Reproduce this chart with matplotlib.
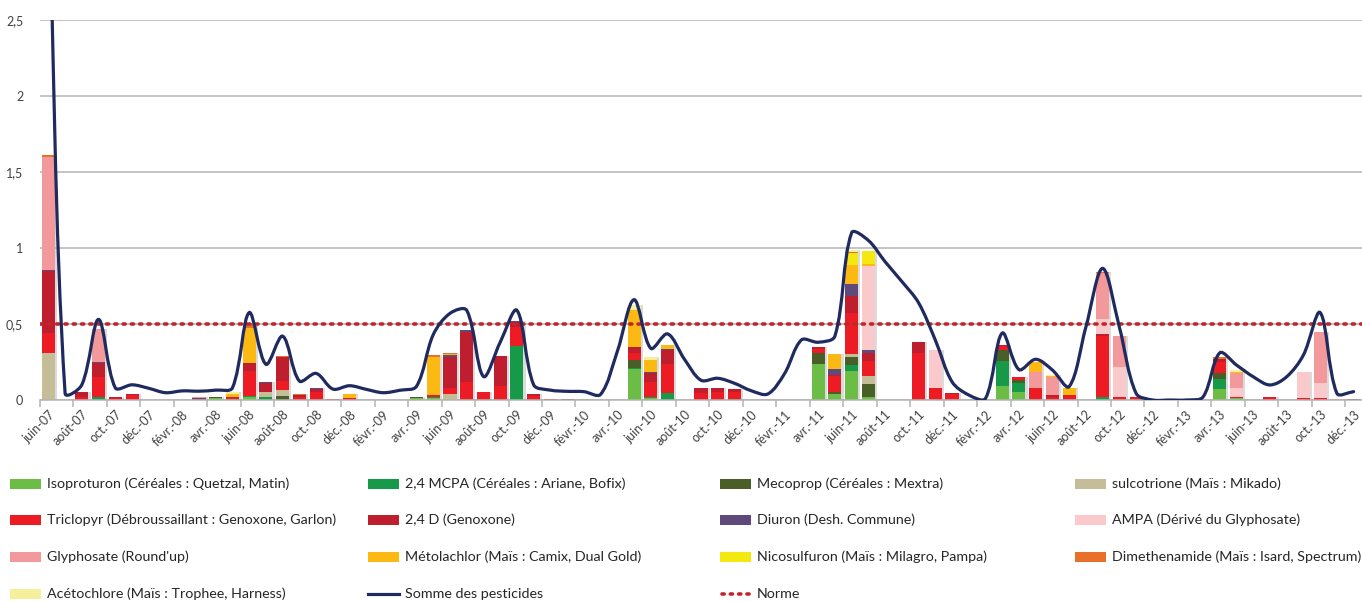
import numpy as np
import matplotlib
matplotlib.use("Agg")
import matplotlib.pyplot as plt
from matplotlib.path import Path
from matplotlib.patches import PathPatch, Rectangle
from matplotlib.lines import Line2D

plt.rcParams['font.family'] = ['Lato', 'DejaVu Sans']

# months juin-07 .. déc-13 (79 months)
MOIS = ["janv.", "févr.", "mars", "avr.", "mai", "juin", "juil.", "août", "sept.", "oct.", "nov.", "déc."]
months = []
for k in range(79):
    m = (5 + k) % 12
    y = 7 + (5 + k) // 12
    months.append(f"{MOIS[m]}-{y:02d}")

N = len(months)

def serie(d):
    # d: {month index: value} -> full list
    return [d.get(i, 0.0) for i in range(N)]

isoproturon = serie({10: 0.015, 12: 0.02, 22: 0.012, 23: 0.012, 32: 0.004, 35: 0.204, 36: 0.015,
                     46: 0.237, 47: 0.04, 48: 0.193, 49: 0.018, 57: 0.092, 58: 0.05, 70: 0.072, 71: 0.01})
mcpa = serie({3: 0.02, 11: 0.005, 12: 0.008, 13: 0.02, 23: 0.005, 28: 0.355, 35: 0.006, 36: 0.005,
              37: 0.044, 48: 0.037, 57: 0.165, 58: 0.064, 63: 0.02, 70: 0.066})
mecoprop = serie({10: 0.007, 14: 0.025, 22: 0.008, 31: 0.005, 35: 0.05, 41: 0.005, 46: 0.07, 47: 0.01,
                  48: 0.055, 49: 0.087, 57: 0.073, 58: 0.016, 70: 0.037, 78: 0.008})
sulcotrione = serie({0: 0.31, 13: 0.035, 14: 0.04, 24: 0.037, 48: 0.015, 49: 0.053})
triclopyr = serie({0: 0.13, 2: 0.02, 3: 0.133, 4: 0.015, 5: 0.03, 9: 0.008, 11: 0.012, 12: 0.165,
                   14: 0.06, 15: 0.02, 16: 0.05, 17: 0.005, 18: 0.015, 23: 0.016, 24: 0.04, 25: 0.12,
                   26: 0.055, 27: 0.094, 28: 0.127, 29: 0.025, 30: 0.004, 35: 0.05, 36: 0.1, 37: 0.19,
                   39: 0.045, 40: 0.055, 41: 0.045, 46: 0.028, 47: 0.105, 48: 0.275, 49: 0.1, 52: 0.311,
                   53: 0.08, 54: 0.04, 57: 0.025, 58: 0.023, 59: 0.08, 60: 0.02, 61: 0.033, 63: 0.4,
                   64: 0.018, 65: 0.02, 70: 0.073, 71: 0.007, 73: 0.02, 75: 0.012, 76: 0.015})
d24 = serie({0: 0.41, 2: 0.03, 3: 0.088, 4: 0.005, 5: 0.01, 12: 0.048, 13: 0.06, 14: 0.16, 15: 0.01,
             16: 0.022, 24: 0.208, 25: 0.33, 27: 0.195, 28: 0.03, 29: 0.015, 35: 0.04, 36: 0.06,
             37: 0.095, 39: 0.035, 40: 0.025, 41: 0.022, 46: 0.012, 47: 0.012, 48: 0.111, 49: 0.052,
             52: 0.069, 54: 0.004, 57: 0.01, 60: 0.012, 63: 0.015, 70: 0.02})
diuron = serie({0: 0.005, 3: 0.008, 9: 0.005, 13: 0.005, 16: 0.008, 24: 0.01, 25: 0.01, 28: 0.005,
                36: 0.005, 37: 0.006, 47: 0.035, 48: 0.077, 49: 0.019})
ampa = serie({49: 0.55, 53: 0.25, 63: 0.1, 64: 0.2, 71: 0.06, 75: 0.174, 76: 0.1})
glyphosate = serie({0: 0.745, 3: 0.22, 9: 0.007, 30: 0.005, 43: 0.005, 59: 0.106, 60: 0.12, 63: 0.3,
                    64: 0.2, 71: 0.1, 76: 0.33, 77: 0.005})
metolachlor = serie({11: 0.023, 12: 0.23, 18: 0.025, 23: 0.252, 24: 0.01, 35: 0.24, 36: 0.075, 37: 0.025,
                     47: 0.1, 48: 0.125, 49: 0.015, 59: 0.062, 60: 0.008, 61: 0.044, 71: 0.005, 76: 0.005})
nicosulfuron = serie({48: 0.077, 49: 0.088})
dimethenamide = serie({0: 0.015, 12: 0.035, 14: 0.005, 15: 0.008, 23: 0.011, 24: 0.005, 48: 0.007,
                       63: 0.007, 70: 0.017})
acetochlore = serie({11: 0.01, 35: 0.035, 36: 0.025, 48: 0.015, 60: 0.004, 71: 0.018})

somme = [3.5, 0.044, 0.10, 0.53, 0.08, 0.10, 0.077, 0.048, 0.06, 0.058, 0.065, 0.08,
         0.575, 0.235, 0.42, 0.125, 0.175, 0.072, 0.094, 0.07, 0.048, 0.064, 0.09, 0.43,
         0.57, 0.59, 0.155, 0.38, 0.59, 0.10, 0.065, 0.057, 0.055, 0.037, 0.32, 0.66,
         0.34, 0.435, 0.27, 0.13, 0.143, 0.11, 0.061, 0.04, 0.175, 0.395, 0.38, 0.42,
         1.10, 1.05, 0.91, 0.78, 0.64, 0.395, 0.12, 0.033, 0.01, 0.44, 0.2, 0.268,
         0.197, 0.088, 0.48, 0.866, 0.48, 0.044, 0.0, 0.0, 0.0, 0.02, 0.31, 0.23,
         0.153, 0.099, 0.153, 0.296, 0.575, 0.044, 0.055]
norme = 0.5

series = [
    ("Isoproturon (Céréales : Quetzal, Matin)", isoproturon, "#6cbd45"),
    ("2,4 MCPA (Céréales : Ariane, Bofix)", mcpa, "#17994a"),
    ("Mecoprop (Céréales : Mextra)", mecoprop, "#4a5e28"),
    ("sulcotrione (Maïs : Mikado)", sulcotrione, "#c5bd97"),
    ("Triclopyr (Débroussaillant : Genoxone, Garlon)", triclopyr, "#ed1c24"),
    ("2,4 D (Genoxone)", d24, "#be1e2d"),
    ("Diuron (Desh. Commune)", diuron, "#604a7b"),
    ("AMPA (Dérivé du Glyphosate)", ampa, "#f9c9cc"),
    ("Glyphosate (Round'up)", glyphosate, "#f4999b"),
    ("Métolachlor (Maïs : Camix, Dual Gold)", metolachlor, "#fdb913"),
    ("Nicosulfuron (Maïs : Milagro, Pampa)", nicosulfuron, "#f3e80f"),
    ("Dimethenamide (Maïs : Isard, Spectrum)", dimethenamide, "#e8702a"),
    ("Acétochlore (Maïs : Trophee, Harness)", acetochlore, "#f6ef9b"),
]
LINE_COLOR = "#1f2a5e"
NORME_COLOR = "#c0272d"
DOTS = (0, (0.6, 1.7))

fig = plt.figure(figsize=(13.62, 6.02), dpi=100)
ax = fig.add_axes([40 / 1362, 1 - 400 / 602, 1 - 40 / 1362, 380 / 602])

x = np.arange(N)
bottom = np.zeros(N)
for name, vals, col in series:
    vals = np.array(vals)
    # soft shadow
    ax.bar(x + 0.13, vals, bottom=bottom, width=0.78, color="#9a9a9a", alpha=0.35,
           linewidth=0, zorder=1)
    ax.bar(x, vals, bottom=bottom, width=0.78, color=col, linewidth=0, zorder=2)
    bottom += vals

# smooth line: Bezier handles along (next - prev), length shared by the
# neighbouring segment lengths (measured in pixels), spreadsheet style
SX, SY = 16.75, 152.0
P = np.column_stack([x * SX, np.array(somme) * SY]).astype(float)
hin = np.zeros_like(P)
hout = np.zeros_like(P)
for i in range(N):
    a = P[i - 1] if i > 0 else P[i]
    b = P[i + 1] if i < N - 1 else P[i]
    t = b - a
    dp = np.hypot(*(P[i] - a))
    dn = np.hypot(*(b - P[i]))
    s = dp + dn
    if s == 0:
        continue
    hin[i] = P[i] - t * dp / s / 3
    hout[i] = P[i] + t * dn / s / 3
verts = [P[0]]
codes = [Path.MOVETO]
for i in range(N - 1):
    verts += [hout[i], hin[i + 1], P[i + 1]]
    codes += [Path.CURVE4] * 3
verts = np.array(verts) / [SX, SY]
ax.add_patch(PathPatch(Path(verts, codes), facecolor="none", edgecolor=LINE_COLOR,
                       linewidth=2.3, zorder=4, capstyle="round"))

ax.axhline(norme, color=NORME_COLOR, linewidth=2.6, linestyle=DOTS,
           dash_capstyle="round", zorder=3)

ax.set_xlim(-0.5, N - 0.5)
ax.set_ylim(0, 2.5)
ax.set_yticks([0, 0.5, 1, 1.5, 2, 2.5])
ax.set_yticklabels(["0", "0,5", "1", "1,5", "2", "2,5"])
ax.yaxis.grid(True, color="#b4b4b4", linewidth=1.1)
ax.set_axisbelow(True)
ax.tick_params(axis="y", length=0, pad=12, labelsize=9, labelcolor="#404040")

ax.set_xticks(x[::2])
ax.set_xticklabels(months[::2], rotation=45, ha="right", va="top", rotation_mode="anchor")
ax.set_xticks(np.arange(-0.5, N, 2), minor=True)
ax.tick_params(axis="x", which="major", length=0, pad=6, labelsize=9, labelcolor="#404040")
ax.tick_params(axis="x", which="minor", length=5, color="#b4b4b4", width=1.1)
for s in ["top", "right", "left"]:
    ax.spines[s].set_visible(False)
ax.spines["bottom"].set_color("#b4b4b4")
ax.spines["bottom"].set_linewidth(1.1)

# legend (row-major, 4 columns)
entries = [(n, "bar", c) for n, v, c in series]
entries.append(("Somme des pesticides", "line", LINE_COLOR))
entries.append(("Norme", "dot", NORME_COLOR))
col_x = [10, 368, 720, 1075]
row_y = [484, 520, 557, 594]
W, H = 1362, 602
for k, (name, kind, col) in enumerate(entries):
    cx = col_x[k % 4]
    cy = row_y[k // 4]
    if kind == "bar":
        fig.add_artist(Rectangle((cx / W, 1 - (cy + 5) / H), 31 / W, 10 / H,
                                 transform=fig.transFigure, facecolor=col, edgecolor="none"))
    elif kind == "line":
        fig.add_artist(Line2D([cx / W, (cx + 31) / W], [1 - cy / H] * 2, transform=fig.transFigure,
                              color=col, linewidth=2.3))
    else:
        fig.add_artist(Line2D([(cx + 2) / W, (cx + 31) / W], [1 - cy / H] * 2, transform=fig.transFigure,
                              color=col, linewidth=2.6, linestyle=DOTS, dash_capstyle="round"))
    fig.text((cx + 37) / W, 1 - cy / H, name, fontsize=10.3, color="#262626", va="center", ha="left")

fig.savefig("out.png", dpi=100)
